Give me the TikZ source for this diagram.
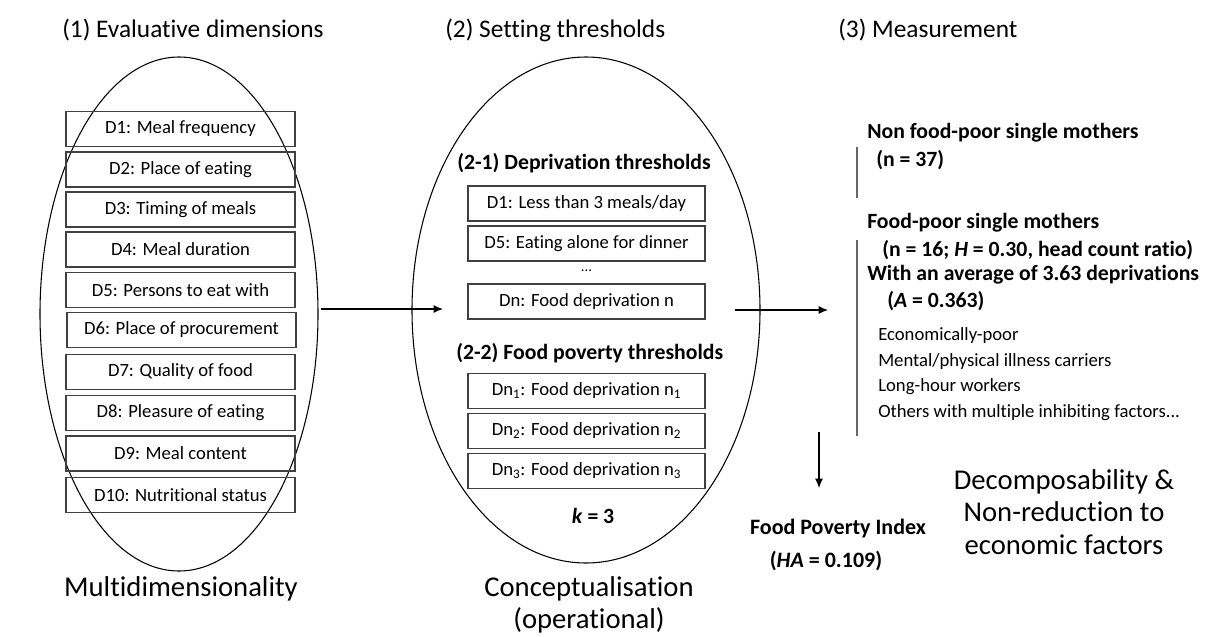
\documentclass[tikz,border=0pt]{standalone}
\usepackage{fontspec}
\setmainfont{Carlito}[Ligatures=CommonOff]
\usetikzlibrary{arrows.meta}
\tikzset{
  dimbox/.style={draw=black!75, line width=1pt, minimum width=229*0.75pt, minimum height=35*0.75pt, inner sep=0pt, font=\fontsize{14}{16}\selectfont},
  thrbox/.style={draw=black!75, line width=1pt, minimum width=237*0.75pt, minimum height=35*0.75pt, inner sep=0pt, font=\fontsize{14}{16}\selectfont},
  title/.style={anchor=west, inner sep=0pt, font=\fontsize{19}{22}\selectfont},
  big/.style={inner sep=0pt, align=center, font=\fontsize{21.5}{24.5}\selectfont},
  bold/.style={anchor=west, inner sep=0pt, font=\fontsize{16.3}{19}\selectfont\bfseries},
  small/.style={anchor=west, inner sep=0pt, font=\fontsize{14}{16}\selectfont},
  oval/.style={draw=black, line width=0.8pt},
  arr/.style={-{Latex[length=7pt,width=6pt]}, line width=0.8pt},
  sep/.style={draw=black!60, line width=1pt}
}
\begin{document}
\begin{tikzpicture}[x=0.75pt,y=-0.75pt]
\useasboundingbox (0,0) rectangle (1211,636);
% titles
\node[title] (t1) at (62,30) {(1) Evaluative dimensions};
\node[title] (t2) at (445,30) {(2) Setting thresholds};
\node[title] (t3) at (838,30) {(3) Measurement};
% ellipses
\draw[oval] (179,314) ellipse [x radius=139, y radius=257];
\draw[oval] (586,310) ellipse [x radius=174, y radius=253];
% left boxes
\node[dimbox] (d1) at (180.5,129) {D1: Meal frequency};
\node[dimbox] (d2) at (180.5,169.5) {D2: Place of eating};
\node[dimbox] (d3) at (180.5,209.5) {D3: Timing of meals};
\node[dimbox] (d4) at (180.5,249.5) {D4: Meal duration};
\node[dimbox] (d5) at (180.5,290) {D5: Persons to eat with};
\node[dimbox] (d6) at (181.5,330) {D6: Place of procurement};
\node[dimbox] (d7) at (180.5,372) {D7: Quality of food};
\node[dimbox] (d8) at (180.5,413) {D8: Pleasure of eating};
\node[dimbox] (d9) at (180.5,453.5) {D9: Meal content};
\node[dimbox] (d10) at (180.5,495) {D10: Nutritional status};
\node[big] (multi) at (181,589) {Multidimensionality};
% middle
\node[bold] (h21) at (457,163) {(2-1) Deprivation thresholds};
\node[thrbox] (m1) at (586.5,203.5) {D1: Less than 3 meals/day};
\node[thrbox] (m2) at (586.5,243.5) {D5: Eating alone for dinner};
\node[inner sep=0pt, font=\fontsize{11}{13}\selectfont] (dots) at (586.5,271) {...};
\node[thrbox] (m3) at (586.5,301.5) {Dn: Food deprivation n};
\node[bold] (h22) at (456,353) {(2-2) Food poverty thresholds};
\node[thrbox] (n1) at (586.5,391) {Dn\textsubscript{1}: Food deprivation n\textsubscript{1}};
\node[thrbox] (n2) at (586.5,431) {Dn\textsubscript{2}: Food deprivation n\textsubscript{2}};
\node[thrbox] (n3) at (586.5,471) {Dn\textsubscript{3}: Food deprivation n\textsubscript{3}};
\node[inner sep=0pt, font=\fontsize{16.3}{19}\selectfont\bfseries] (k) at (593,516) {\textit{k} = 3};
\node[big] (concept) at (589,605) {Conceptualisation\\(operational)};
% right
\node[bold] (nonpoor) at (867,133) {Non food-poor single mothers};
\node[bold] (n37) at (876,160) {(n = 37)};
\node[bold] (poor) at (867,223) {Food-poor single mothers};
\node[bold] (n16) at (882,250) {(n = 16; \textit{H} = 0.30, head count ratio)};
\node[bold] (avg) at (867,275) {With an average of 3.63 deprivations};
\node[bold] (a363) at (887,301) {(\textit{A} = 0.363)};
\node[small] (e1) at (878,336) {Economically-poor};
\node[small] (e2) at (878,362) {Mental/physical illness carriers};
\node[small] (e3) at (878,387) {Long-hour workers};
\node[small] (e4) at (878,413) {Others with multiple inhibiting factors...};
\coordinate (v1a) at (857,147);
\coordinate (v1b) at (857,198);
\coordinate (v2a) at (857,240);
\coordinate (v2b) at (857,436);
\draw[sep] (v1a) -- (v1b);
\draw[sep] (v2a) -- (v2b);
\node[inner sep=0pt, font=\fontsize{16.5}{19}\selectfont\bfseries] (fpi) at (838,529) {Food Poverty Index};
\node[inner sep=0pt, font=\fontsize{16.5}{19}\selectfont\bfseries] (fpiha) at (826,561) {(\textit{HA} = 0.109)};
\node[big] (decomp) at (1064,512) {Decomposability \&\\Non-reduction to\\economic factors};
% arrows
\coordinate (a1s) at (321,309);
\coordinate (a1e) at (443,309);
\coordinate (a2s) at (735,310);
\coordinate (a2e) at (828,310);
\coordinate (a3s) at (819,432);
\coordinate (a3e) at (819,488);
\draw[arr] (a1s) -- (a1e);
\draw[arr] (a2s) -- (a2e);
\draw[arr] (a3s) -- (a3e);
\end{tikzpicture}
\end{document}
